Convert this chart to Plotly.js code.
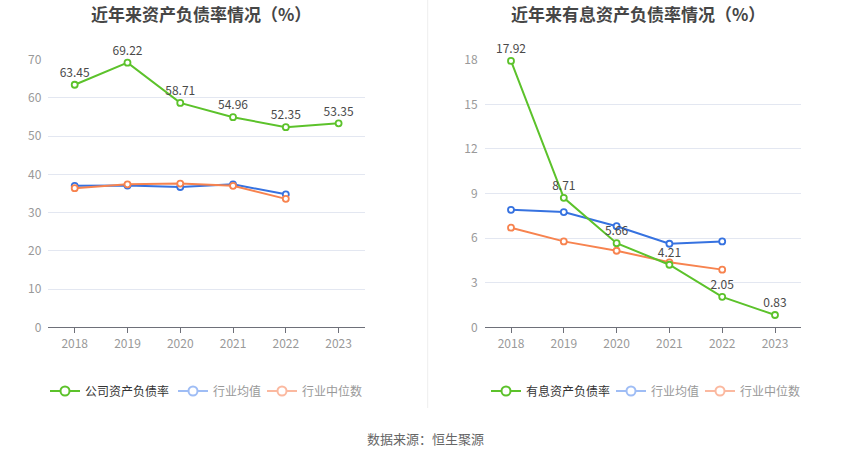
<!DOCTYPE html>
<html><head><meta charset="utf-8">
<script src="https://cdn.plot.ly/plotly-3.0.1.min.js"></script>
<style>html,body{margin:0;padding:0;background:#fff}#chart{width:850px;height:459px}</style>
</head><body><div id="chart"></div>
<script>
const years = ['2018','2019','2020','2021','2022','2023'];
const yearsInd = ['2018','2019','2020','2021','2022'];
const companyDebt = [63.45, 69.22, 58.71, 54.96, 52.35, 53.35];
const industryAvgDebt = [37.0, 37.1, 36.7, 37.4, 34.8];
const industryMedDebt = [36.4, 37.4, 37.6, 37.0, 33.6];
const interestDebt = [17.92, 8.71, 5.66, 4.21, 2.05, 0.83];
const industryAvgInt = [7.9, 7.75, 6.8, 5.62, 5.78];
const industryMedInt = [6.7, 5.78, 5.15, 4.37, 3.88];
const leftTitle = '近年来资产负债率情况（%）';
const rightTitle = '近年来有息资产负债率情况（%）';
const source = '数据来源：恒生聚源';
const legendNames = ['公司资产负债率', '行业均值', '行业中位数', '有息资产负债率', '行业均值', '行业中位数'];

const GREEN = '#5cc22b', BLUE = '#3672e0', ORANGE = '#f7834f';
const F = '"Noto Sans CJK SC", "Noto Sans", sans-serif';

function line(x, y, color, xa, ya, withText) {
  const t = {
    x: x, y: y, xaxis: xa, yaxis: ya, type: 'scatter',
    mode: withText ? 'lines+markers+text' : 'lines+markers',
    line: {color: color, width: 2},
    marker: {size: 6, color: '#fff', line: {color: color, width: 1.8}},
    showlegend: false, hoverinfo: 'skip', cliponaxis: false
  };
  if (withText) {
    t.text = y.map(v => v.toFixed(2));
    t.textposition = 'top center';
    t.textfont = {family: F, size: 12, color: '#4a4a4a'};
  }
  return t;
}
function leg(name, color, xa, ya, lg, grey) {
  return {
    x: [null], y: [null], xaxis: xa, yaxis: ya, type: 'scatter', mode: 'lines+markers',
    name: grey ? '<span style="color:#999">' + name + '</span>' : name,
    line: {color: color, width: 2},
    marker: {size: 9, color: '#fff', line: {color: color, width: 2}},
    legend: lg, showlegend: true, hoverinfo: 'skip'
  };
}

const data = [
  line(yearsInd, industryAvgDebt, BLUE, 'x', 'y'),
  line(yearsInd, industryMedDebt, ORANGE, 'x', 'y'),
  line(years, companyDebt, GREEN, 'x', 'y', true),
  line(yearsInd, industryAvgInt, BLUE, 'x2', 'y2'),
  line(yearsInd, industryMedInt, ORANGE, 'x2', 'y2'),
  line(years, interestDebt, GREEN, 'x2', 'y2', true),
  leg(legendNames[0], GREEN, 'x', 'y', 'legend'),
  leg(legendNames[1], '#9fbdf5', 'x', 'y', 'legend2', true),
  leg(legendNames[2], '#fbb9a0', 'x', 'y', 'legend3', true),
  leg(legendNames[3], GREEN, 'x2', 'y2', 'legend4'),
  leg(legendNames[4], '#9fbdf5', 'x2', 'y2', 'legend5', true),
  leg(legendNames[5], '#fbb9a0', 'x2', 'y2', 'legend6', true)
];

const xcommon = {
  type: 'category', showgrid: false, showline: true, linecolor: '#6e7079', linewidth: 1,
  ticks: 'outside', ticklen: 5, tickcolor: '#6e7079', zeroline: false,
  tickfont: {family: F, size: 12, color: '#999'}, fixedrange: true,
  range: [-0.5, 5.5]
};
const ycommon = {
  showline: false, gridcolor: '#e3e7f1', gridwidth: 1, zeroline: false,
  tickfont: {family: F, size: 12, color: '#999'}, ticks: '', fixedrange: true,
  ticklabelstandoff: 6
};
const ydom = [0.2869, 0.8699];
function lg(px) {
  return {orientation: 'h', yanchor: 'middle', y: (459 - 391) / 459, xanchor: 'left', x: px / 850,
    font: {family: F, size: 12, color: '#333'}, bgcolor: 'rgba(0,0,0,0)', itemclick: false, itemdoubleclick: false,
    itemwidth: 30};
}

const layout = {
  width: 850, height: 459, margin: {l: 0, r: 0, t: 0, b: 0},
  paper_bgcolor: '#fff', plot_bgcolor: '#fff',
  font: {family: F},
  xaxis: Object.assign({}, xcommon, {domain: [48.3/850, 365/850], anchor: 'y'}),
  yaxis: Object.assign({}, ycommon, {domain: ydom, range: [0, 70], dtick: 10, anchor: 'x'}),
  xaxis2: Object.assign({}, xcommon, {domain: [484.6/850, 801.4/850], anchor: 'y2'}),
  yaxis2: Object.assign({}, ycommon, {domain: ydom, range: [0, 18], dtick: 3, anchor: 'x2'}),
  legend: lg(45), legend2: lg(173), legend3: lg(262),
  legend4: lg(486), legend5: lg(611), legend6: lg(700),
  annotations: [
    {text: leftTitle, xref: 'paper', yref: 'paper', x: 201/850, y: (459 - 14) / 459, xanchor: 'center', yanchor: 'middle',
     showarrow: false, font: {family: F, size: 17, color: '#464646', weight: 'bold'}},
    {text: rightTitle, xref: 'paper', yref: 'paper', x: 638/850, y: (459 - 14) / 459, xanchor: 'center', yanchor: 'middle',
     showarrow: false, font: {family: F, size: 17, color: '#464646', weight: 'bold'}},
    {text: source, xref: 'paper', yref: 'paper', x: 0.5, y: (459 - 438) / 459, xanchor: 'center', yanchor: 'middle',
     showarrow: false, font: {family: F, size: 13, color: '#666'}}
  ],
  shapes: [
    {type: 'line', xref: 'paper', yref: 'paper', x0: 427.7/850, x1: 427.7/850, y0: (459 - 408) / 459, y1: 1,
     line: {color: '#eeeeee', width: 1}}
  ]
};
Plotly.newPlot('chart', data, layout, {displayModeBar: false, staticPlot: true});
</script></body></html>
